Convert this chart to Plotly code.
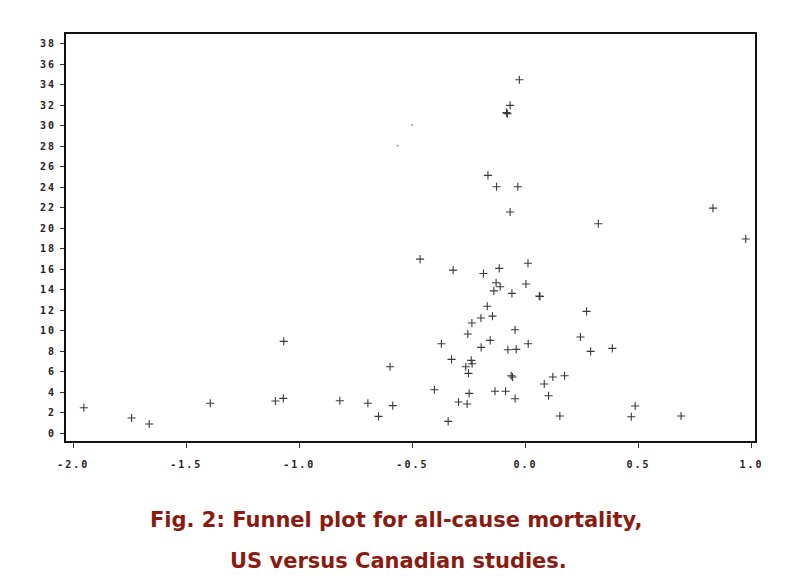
import plotly.graph_objects as go

# Study estimates: effect (x) and precision / weight (y)
effect = [-1.953, -1.742, -1.664, -1.394, -1.106, -1.071, -1.069, -0.821, -0.697, -0.650,
          -0.599, -0.587, -0.466, -0.403, -0.372, -0.342, -0.327, -0.320, -0.296, -0.264,
          -0.258, -0.255, -0.252, -0.249, -0.240, -0.236, -0.237, -0.197, -0.196, -0.186,
          -0.169, -0.166, -0.156, -0.146, -0.140, -0.135, -0.130, -0.128, -0.116, -0.112,
          -0.088, -0.084, -0.080, -0.078, -0.068, -0.068, -0.063, -0.057, -0.060, -0.046,
          -0.046, -0.041, -0.034, -0.027, 0.002, 0.011, 0.012, 0.061, 0.064, 0.083,
          0.102, 0.121, 0.152, 0.173, 0.243, 0.270, 0.288, 0.322, 0.384, 0.468,
          0.485, 0.688, 0.829, 0.974]
precision = [2.5, 1.49, 0.91, 2.93, 3.15, 3.41, 8.97, 3.18, 2.93, 1.65,
             6.5, 2.7, 17.0, 4.25, 8.74, 1.17, 7.22, 15.93, 3.05, 6.5,
             2.86, 9.69, 5.85, 3.9, 7.12, 6.79, 10.76, 11.25, 8.39, 15.6,
             12.4, 25.17, 9.07, 11.44, 13.9, 4.1, 14.7, 24.06, 16.1, 14.3,
             4.1, 31.3, 31.2, 8.16, 32.0, 21.6, 5.62, 5.49, 13.66, 10.1,
             3.38, 8.19, 24.06, 34.5, 14.57, 16.6, 8.74, 13.4, 13.35, 4.81,
             3.67, 5.49, 1.69, 5.62, 9.4, 11.9, 8.0, 20.45, 8.29, 1.62,
             2.66, 1.69, 21.98, 18.96]

# faint specks visible in the scanned figure
speck_x = [-0.501, -0.566]
speck_y = [30.1, 28.06]

x_ticks = [-2.0, -1.5, -1.0, -0.5, 0.0, 0.5, 1.0]
x_labels = ["-2.0", "-1.5", "-1.0", "-0.5", "0.0", "0.5", "1.0"]
y_ticks = list(range(0, 39, 2))
y_labels = [str(v) for v in y_ticks]

caption1 = "Fig. 2: Funnel plot for all-cause mortality,"
caption2 = "US versus Canadian studies."

def spaced(t):
    return '<span style="letter-spacing:2px">' + t + '</span>'

fig = go.Figure()
fig.add_trace(go.Scatter(
    x=effect, y=precision, mode="markers",
    marker=dict(symbol="cross-thin", size=5.8, line=dict(width=1.1, color="#3a3a3a")),
    showlegend=False, hoverinfo="x+y"))
fig.add_trace(go.Scatter(
    x=speck_x, y=speck_y, mode="markers",
    marker=dict(symbol="circle", size=2, color="#999999"),
    showlegend=False, hoverinfo="skip"))

tickfont = dict(family="DejaVu Sans Mono", size=10, color="#222222", weight="bold")

fig.update_xaxes(range=[-2.032, 1.015], tickvals=x_ticks, ticktext=[spaced(t) for t in x_labels],
                 showline=True, linewidth=2, linecolor="#111111", mirror=True,
                 ticks="outside", ticklen=5, tickwidth=1, tickcolor="#333333",
                 showgrid=False, zeroline=False, tickfont=tickfont, ticklabelstandoff=8)
fig.update_yaxes(range=[-0.75, 38.97], tickvals=y_ticks, ticktext=[spaced(t) for t in y_labels],
                 showline=True, linewidth=2, linecolor="#111111", mirror=True,
                 ticks="outside", ticklen=4, tickwidth=1, tickcolor="#333333",
                 showgrid=False, zeroline=False, tickfont=tickfont, ticklabelstandoff=2)

capfont = dict(family="DejaVu Sans", size=21, color="#8B1A10", weight="bold")
fig.add_annotation(text=caption1, xref="paper", yref="paper", x=0.479, y=-0.194,
                   xanchor="center", yanchor="middle", showarrow=False, font=capfont)
fig.add_annotation(text=caption2, xref="paper", yref="paper", x=0.482, y=-0.295,
                   xanchor="center", yanchor="middle", showarrow=False, font=capfont)

fig.update_layout(width=800, height=586, margin=dict(l=58, r=53, t=26, b=153),
                  paper_bgcolor="white", plot_bgcolor="white")

fig.write_html("out.html")
